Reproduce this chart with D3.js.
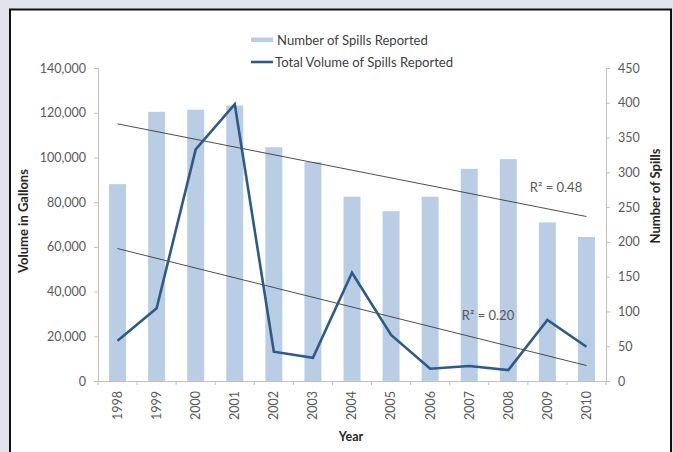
<!DOCTYPE html>
<html><head><meta charset="utf-8">
<script src="https://cdn.jsdelivr.net/npm/d3@7"></script>
<style>
html,body{margin:0;padding:0;background:#e3e3ee;}
svg{display:block;font-family:Lato,"Open Sans",sans-serif;}
</style></head><body>
<script>
const years = ["1998","1999","2000","2001","2002","2003","2004","2005","2006","2007","2008","2009","2010"];
const spills = [283,387,390,396,336,315,265,244,265,305,319,228,207];
const volume = [18000,32500,103600,123800,13100,10400,48400,20600,5500,6700,4900,27300,15300];
const volTicks = [0,20000,40000,60000,80000,100000,120000,140000];
const spillTicks = [0,50,100,150,200,250,300,350,400,450];
const r2Labels = ["R² = 0.48","R² = 0.20"];
const legendLabels = ["Number of Spills Reported","Total Volume of Spills Reported"];

const W=673,H=452;
const svg=d3.select("body").append("svg").attr("width",W).attr("height",H);
svg.append("rect").attr("x",10).attr("y",9.5).attr("width",661).attr("height",460)
  .attr("fill","#fff").attr("stroke","#111").attr("stroke-width",2);

const L=98,R=606,T=68,B=381;
const xc=d3.scaleBand().domain(years).range([L,R]);
const yL=d3.scaleLinear().domain([0,140000]).range([B,T]);
const yR=d3.scaleLinear().domain([0,450]).range([B,T]);
const axisCol="#bfbfbf", txtCol="#595959";

// bars
svg.append("g").selectAll("rect").data(years).join("rect")
  .attr("x",d=>xc(d)+xc.bandwidth()/2-8.5).attr("width",17)
  .attr("y",(d,i)=>yR(spills[i])).attr("height",(d,i)=>B-yR(spills[i]))
  .attr("fill","#b9cde5");

// axes
const fmt=d3.format(",");
const gl=svg.append("g").attr("transform",`translate(${L},0)`)
  .call(d3.axisLeft(yL).tickValues(volTicks).tickFormat(fmt).tickSize(4).tickPadding(8));
const gr=svg.append("g").attr("transform",`translate(${R},0)`)
  .call(d3.axisRight(yR).tickValues(spillTicks).tickSize(4).tickPadding(8));
const gx=svg.append("g").attr("transform",`translate(0,${B})`)
  .call(d3.axisBottom(xc).tickSize(0).tickPadding(0));
[gl,gr,gx].forEach(g=>{
  g.select(".domain").attr("stroke",axisCol);
  g.selectAll(".tick line").attr("stroke",axisCol);
  g.selectAll("text").attr("fill",txtCol).style("font-size","12.5px").style("font-family","Lato,sans-serif");
});
// x category boundary ticks
svg.append("g").selectAll("line").data(d3.range(years.length+1)).join("line")
  .attr("x1",i=>L+i*xc.step()).attr("x2",i=>L+i*xc.step())
  .attr("y1",B).attr("y2",B+4).attr("stroke",axisCol);
gx.selectAll(".tick text").attr("transform","rotate(-90)")
  .attr("text-anchor","end").attr("x",-10).attr("y",0).attr("dy","0.35em");

// trend lines (least squares)
function fit(v){
  const n=v.length, mx=(n-1)/2, my=d3.mean(v);
  let sxy=0,sxx=0; v.forEach((y,i)=>{sxy+=(i-mx)*(y-my);sxx+=(i-mx)*(i-mx);});
  const b=sxy/sxx; return i=>my+b*(i-mx);
}
const cx=i=>xc(years[i])+xc.bandwidth()/2;
const fS=fit(spills), fV=fit(volume);
svg.append("line").attr("x1",cx(0)).attr("x2",cx(12)).attr("y1",yR(fS(0))).attr("y2",yR(fS(12)))
  .attr("stroke","#3a3a3a").attr("stroke-width",0.9);
svg.append("line").attr("x1",cx(0)).attr("x2",cx(12)).attr("y1",yL(fV(0))).attr("y2",yL(fV(12)))
  .attr("stroke","#3a3a3a").attr("stroke-width",0.9);

// volume line
svg.append("path").datum(volume)
  .attr("d",d3.line().x((d,i)=>cx(i)).y(d=>yL(d)))
  .attr("fill","none").attr("stroke","#2e5a88").attr("stroke-width",2.6).attr("stroke-linejoin","miter");

// R2 labels
svg.append("text").attr("x",556).attr("y",192).attr("text-anchor","middle")
  .attr("fill",txtCol).style("font-size","13px").text(r2Labels[0]);
svg.append("text").attr("x",488).attr("y",320).attr("text-anchor","middle")
  .attr("fill",txtCol).style("font-size","13px").text(r2Labels[1]);

// axis titles
svg.append("text").attr("transform","translate(28,221) rotate(-90)").attr("text-anchor","middle")
  .attr("font-weight","bold").attr("fill","#262626").style("font-size","13px").text("Volume in Gallons");
svg.append("text").attr("transform","translate(660,196) rotate(-90)").attr("text-anchor","middle")
  .attr("font-weight","bold").attr("fill","#262626").style("font-size","13px").text("Number of Spills");
svg.append("text").attr("x",351).attr("y",441).attr("text-anchor","middle")
  .attr("font-weight","bold").attr("fill","#262626").style("font-size","12.5px").text("Year");

// legend
const lg=svg.append("g");
lg.append("rect").attr("x",251).attr("y",37.5).attr("width",22).attr("height",4.5).attr("fill","#b9cde5");
lg.append("line").attr("x1",251).attr("x2",273).attr("y1",62).attr("y2",62).attr("stroke","#2e5a88").attr("stroke-width",2.6);
lg.append("text").attr("x",277).attr("y",40).attr("dy","0.35em").attr("fill","#404040").style("font-size","13.1px").text(legendLabels[0]);
lg.append("text").attr("x",275).attr("y",62).attr("dy","0.35em").attr("fill","#404040").style("font-size","13.1px").text(legendLabels[1]);
</script>
</body></html>
